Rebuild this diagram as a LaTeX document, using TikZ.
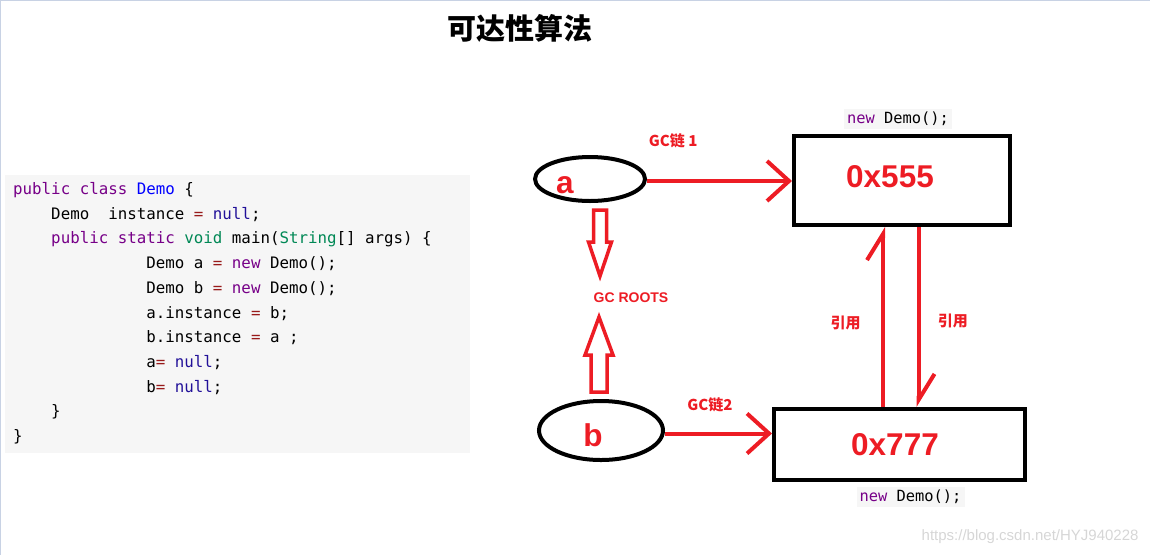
\documentclass[tikz,border=0pt]{standalone}
\usepackage{fontspec}
\setmainfont{Liberation Sans}
\newfontfamily\cjk{Noto Sans CJK SC}
\newfontfamily\codefont{DejaVu Sans Mono}
\usetikzlibrary{positioning, shapes.geometric, arrows.meta}

\definecolor{paintred}{HTML}{ED1C24}
\definecolor{codebg}{HTML}{F6F6F6}
\definecolor{kwcol}{HTML}{770088}
\definecolor{defcol}{HTML}{0000FF}
\definecolor{typecol}{HTML}{008855}
\definecolor{atomcol}{HTML}{221199}
\definecolor{opcol}{HTML}{981A1A}
\definecolor{framecol}{HTML}{C8D2E4}
\definecolor{markcol}{HTML}{D6D6D6}

% java highlighting
\newcommand{\jkw}[1]{\textcolor{kwcol}{#1}}
\newcommand{\jdef}[1]{\textcolor{defcol}{#1}}
\newcommand{\jtype}[1]{\textcolor{typecol}{#1}}
\newcommand{\jatom}[1]{\textcolor{atomcol}{#1}}
\newcommand{\jop}[1]{\textcolor{opcol}{#1}}
\newcommand{\jind}[1]{\hspace*{#1\fontdimen2\font}}

\begin{document}
\begin{tikzpicture}[x=1pt, y=-1pt,
  var/.style={ellipse, draw, line width=4pt},
  obj/.style={rectangle, draw, line width=4pt},
  bigred/.style={text=paintred, font=\fontsize{31.5}{36}\selectfont\bfseries},
  redlbl/.style={text=paintred, font=\cjk\fontsize{15}{17}\selectfont\bfseries},
  chain/.style={draw=paintred, line width=4pt, -{Straight Barb[length=22pt, width=40pt]}},
  ref/.style={draw=paintred, line width=4pt, -{Straight Barb[left, length=26pt, width=32pt]}},
  hollow/.style={draw=paintred, line width=3.5pt, fill=white, line join=miter},
  newlbl/.style={fill=codebg, font=\codefont\fontsize{15.4}{18}\selectfont, inner sep=3pt},
  codeline/.style={anchor=base west, inner sep=0pt, font=\codefont\fontsize{15.8}{20}\selectfont}]
  \useasboundingbox (0,0) rectangle (1150,555);
  \draw[framecol, line width=1.5pt] (0,555) -- (0,0) -- (1150,0);

  \node[font=\cjk\fontsize{29}{32}\selectfont\bfseries] (title) at (520,28) {可达性算法};

  % code listing
  \node[fill=codebg, anchor=north west, minimum width=465, minimum height=278, inner sep=0pt] (code) at (5,175) {};
  \foreach \ln [count=\i from 0] in {
      {\jkw{public} \jkw{class} \jdef{Demo} \{},
      {\jind{4}Demo\jind{2}instance \jop{=} \jatom{null};},
      {\jind{4}\jkw{public} \jkw{static} \jtype{void} main(\jtype{String}[] args) \{},
      {\jind{14}Demo a \jop{=} \jkw{new} Demo();},
      {\jind{14}Demo b \jop{=} \jkw{new} Demo();},
      {\jind{14}a.instance \jop{=} b;},
      {\jind{14}b.instance \jop{=} a ;},
      {\jind{14}a\jop{=} \jatom{null};},
      {\jind{14}b\jop{=} \jatom{null};},
      {\jind{4}\}},
      {\}}}
    \node[codeline] (line\i) at (13,194.5+24.7*\i) {\ln};

  % references and objects
  \node[var, minimum width=110, minimum height=44, label={[bigred, xshift=-25, yshift=-6]center:a}] (a) at (590,179) {};
  \node[var, minimum width=124, minimum height=59, label={[bigred, xshift=-8, yshift=-4.5]center:b}] (b) at (601,430.5) {};
  \node[obj, minimum width=216, minimum height=89, label={[bigred, xshift=-12, yshift=4]center:0x555}] (box1) at (902,180.5) {};
  \node[obj, minimum width=251, minimum height=71, label={[bigred, xshift=-4.5]center:0x777}] (box2) at (899.5,444.5) {};
  \node[newlbl, above=5pt of box1, xshift=-4] (new1) {\jkw{new} Demo();};
  \node[newlbl, below=5pt of box2, xshift=11] (new2) {\jkw{new} Demo();};

  \node[font=\fontsize{14}{16}\selectfont\bfseries, text=paintred] (roots) at (631,298) {GC ROOTS};
  \coordinate (atail) at (600,210);
  \coordinate (btail) at (599,392);
  \draw[hollow] ([xshift=-6.5]atail) -- ++(0,32) -- ++(-5,0) -- ++(11.5,34) -- ++(11.5,-34) -- ++(-5,0) -- ++(0,-32) -- cycle;
  \draw[hollow] ([xshift=-8]btail) -- ++(0,-37) -- ++(-6,0) -- ++(14,-38) -- ++(14,38) -- ++(-6,0) -- ++(0,37) -- cycle;

  \draw[chain] ([yshift=-2]a.east) -- ([yshift=-2]a.east -| box1.west) node[redlbl, pos=0.18, above=28pt] {GC链 1};
  \draw[chain] ([yshift=-3]b.east) -- ([yshift=-3]b.east -| box2.west) node[redlbl, pos=0.42, above=16pt] {GC链2};
  \draw[ref] ([xshift=-16.5]box2.north) -- ([xshift=-16.5]box2.north |- box1.south)
    node[redlbl, midway, left=17pt, yshift=-6] {引用};
  \draw[ref] ([xshift=16.5]box1.south) -- ([xshift=16.5]box1.south |- box2.north)
    node[redlbl, midway, right=14pt, yshift=-4] {引用};

  \node[text=markcol, font=\fontsize{15}{17}\selectfont, anchor=east] (mark) at (1142,537) {https://blog.csdn.net/HYJ940228};
\end{tikzpicture}
\end{document}
